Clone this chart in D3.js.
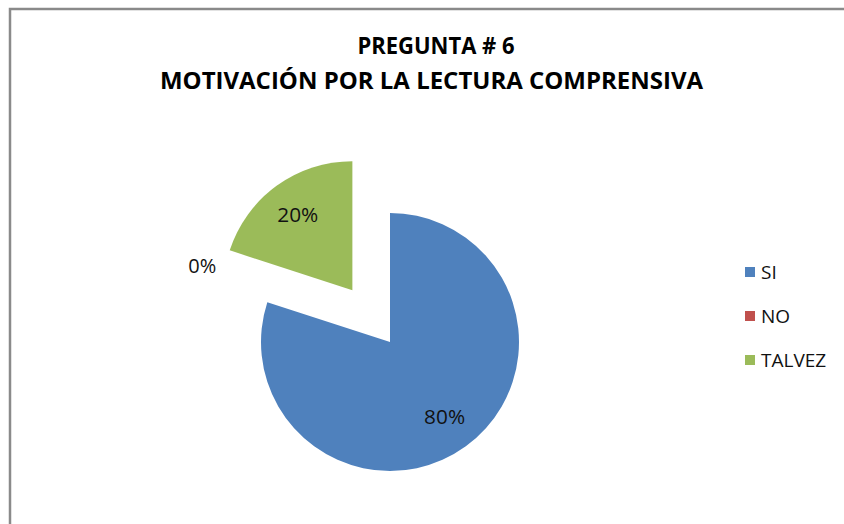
<!DOCTYPE html>
<html>
<head>
<meta charset="utf-8">
<script src="https://cdn.jsdelivr.net/npm/d3@7"></script>
<style>
  body { margin: 0; background: #fff; }
  text { font-family: "Open Sans", "Noto Sans", sans-serif; }
</style>
</head>
<body>
<svg id="chart"></svg>
<script>
let w = 844;
let h = 524;

// data
let categories = ["SI", "NO", "TALVEZ"];
let values = [80, 0, 20];
let colors = ["#4F81BD", "#C0504D", "#9BBB59"];
let exploded = [0, 0, 64];
let titleLines = ["PREGUNTA # 6", "MOTIVACIÓN POR LA LECTURA COMPRENSIVA"];

let svg = d3.select("#chart").attr("width", w).attr("height", h);

// chart frame (only top and left edges visible)
svg.append("path")
  .attr("d", "M10," + h + " V9 H" + w)
  .attr("fill", "none")
  .attr("stroke", "#8a8a8a")
  .attr("stroke-width", 2.5);

// title
let title = svg.append("g").attr("class", "title");
title.append("text")
  .attr("x", 436).attr("y", 54)
  .attr("text-anchor", "middle")
  .attr("font-weight", "bold").attr("font-size", 22.5)
  .attr("textLength", 157).attr("lengthAdjust", "spacingAndGlyphs")
  .text(titleLines[0]);
title.append("text")
  .attr("x", 431.5).attr("y", 89)
  .attr("text-anchor", "middle")
  .attr("font-weight", "bold").attr("font-size", 22.5)
  .attr("textLength", 543).attr("lengthAdjust", "spacingAndGlyphs")
  .text(titleLines[1]);

let cx = 390, cy = 342, radius = 129;
let total = d3.sum(values);

let pie = d3.pie().sort(null).value(function (d) { return d; })(values);
let arc = d3.arc().innerRadius(0).outerRadius(radius);

let g = svg.append("g").attr("transform", "translate(" + cx + "," + cy + ")");

function offset(d, i) {
  let a = (d.startAngle + d.endAngle) / 2;
  return [Math.sin(a) * exploded[i], -Math.cos(a) * exploded[i]];
}

let slices = g.selectAll(".slice")
  .data(pie)
  .enter()
  .append("g")
  .attr("class", "slice")
  .attr("transform", function (d, i) {
    let o = offset(d, i);
    return "translate(" + o[0] + "," + o[1] + ")";
  });

slices.append("path")
  .attr("d", arc)
  .attr("fill", function (d, i) { return colors[i]; });

// data labels
slices.append("text")
  .attr("transform", function (d, i) {
    let a = (d.startAngle + d.endAngle) / 2;
    let r = d.value === 0 ? radius * 1.57 : radius * 0.72;
    if (d.value === 0) a += 0.07;
    return "translate(" + Math.sin(a) * r + "," + (-Math.cos(a) * r) + ")";
  })
  .attr("text-anchor", "middle")
  .attr("dy", "0.36em")
  .attr("font-size", 19.5)
  .attr("textLength", function (d) { return d.value === 0 ? 28 : 41; })
  .attr("lengthAdjust", "spacingAndGlyphs")
  .attr("fill", "#111")
  .text(function (d) { return Math.round(d.value / total * 100) + "%"; });

// legend
let legend = svg.append("g").attr("transform", "translate(745,0)");
let ly = d3.scalePoint().domain(categories).range([272, 360]);

legend.selectAll("rect")
  .data(categories)
  .enter()
  .append("rect")
  .attr("x", 0)
  .attr("y", function (d) { return ly(d) - 5; })
  .attr("width", 10).attr("height", 10)
  .attr("fill", function (d, i) { return colors[i]; });

legend.selectAll("text")
  .data(categories)
  .enter()
  .append("text")
  .attr("x", 16)
  .attr("y", function (d) { return ly(d); })
  .attr("dy", "0.36em")
  .attr("font-size", 19)
  .attr("fill", "#111")
  .text(function (d) { return d; });
</script>
</body>
</html>
